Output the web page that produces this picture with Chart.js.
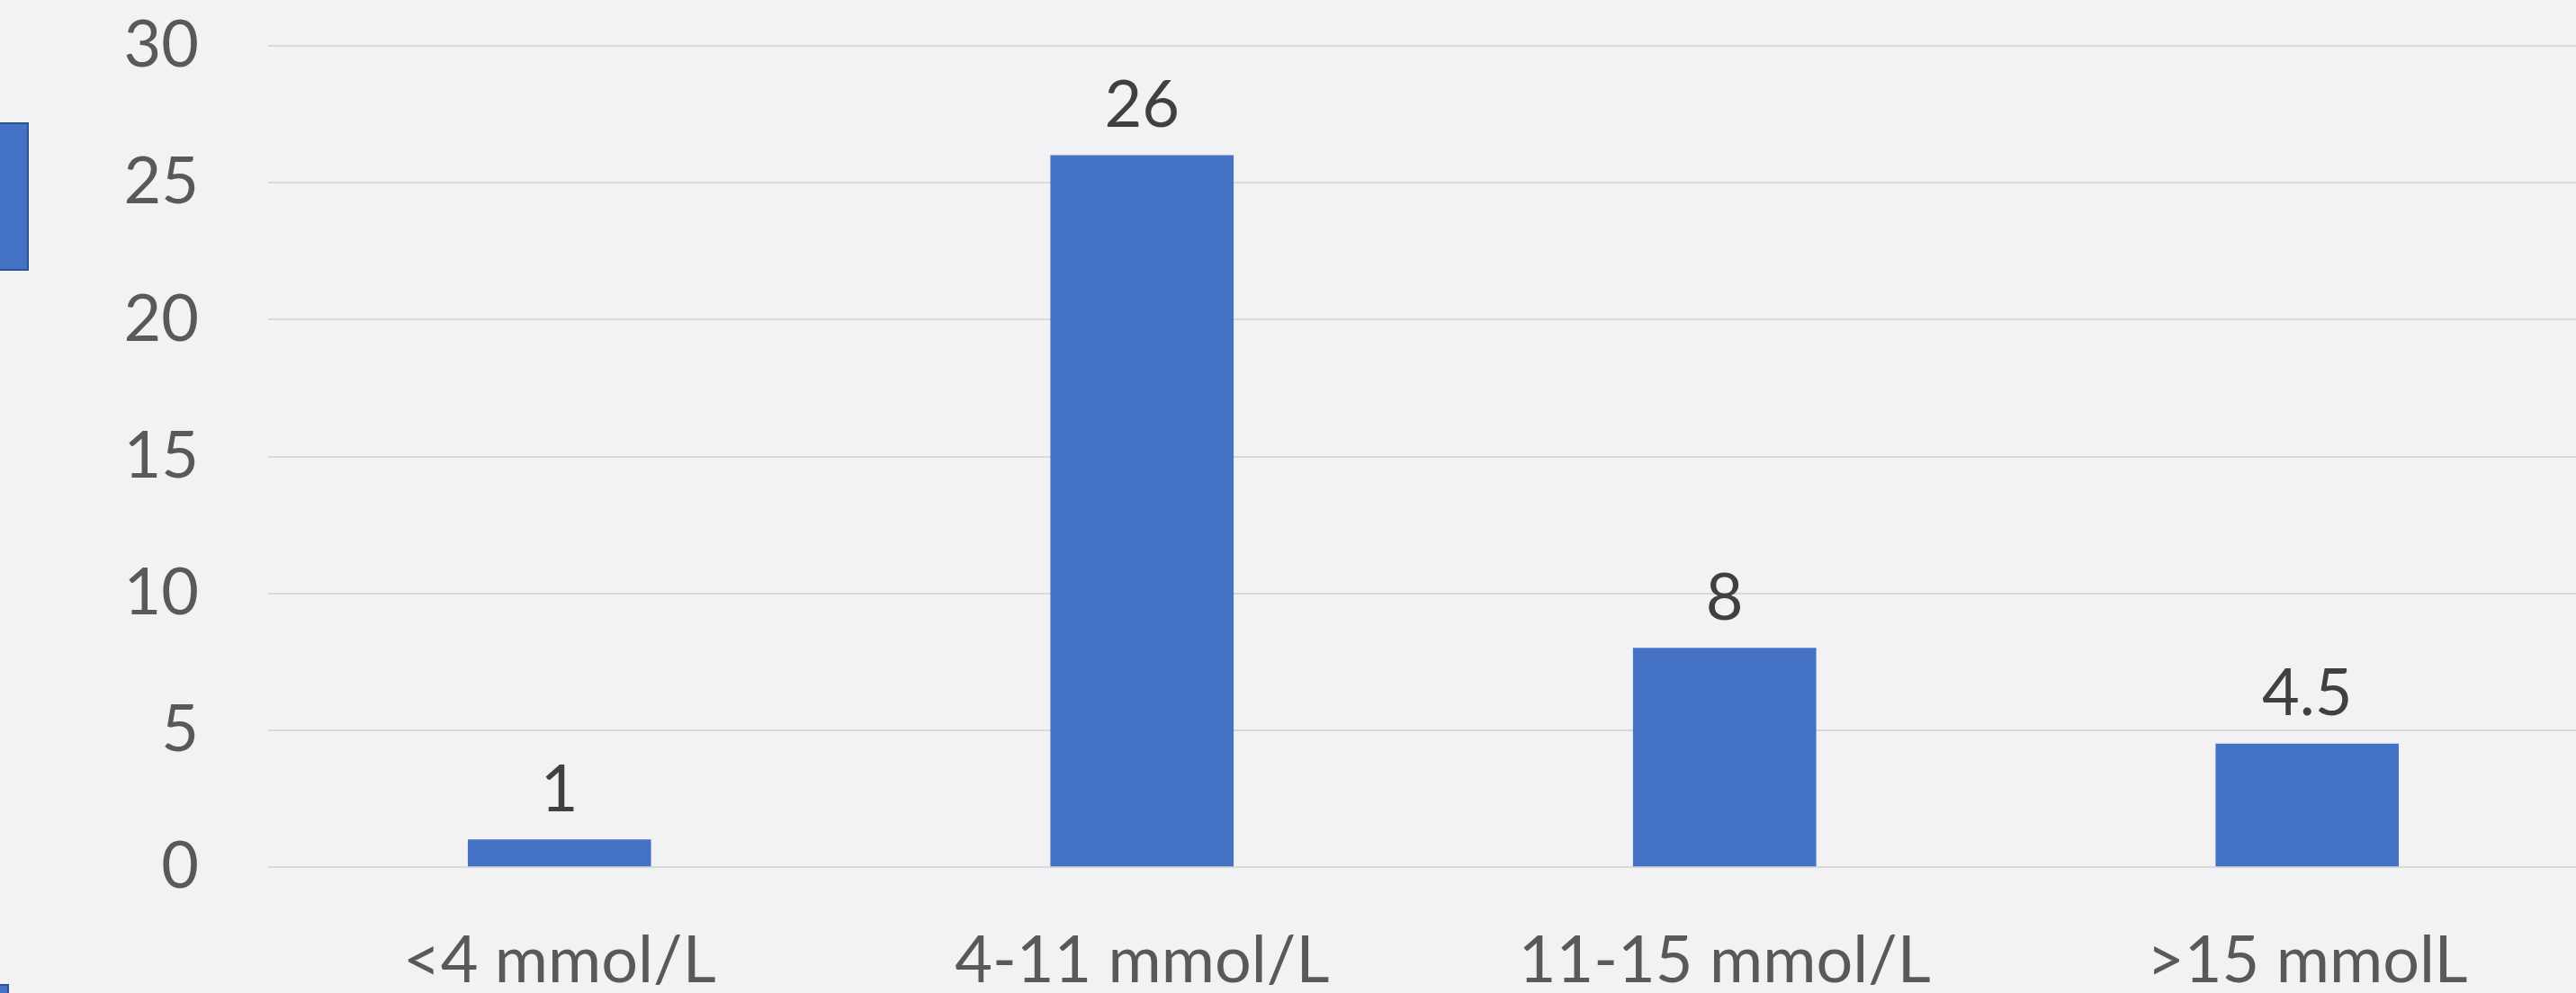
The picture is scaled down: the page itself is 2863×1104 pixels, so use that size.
<!DOCTYPE html>
<html>
<head>
<meta charset="utf-8">
<script src="https://cdn.jsdelivr.net/npm/chart.js@4/dist/chart.umd.min.js"></script>
<style>
  html, body { margin: 0; padding: 0; background: #f2f2f4; overflow: hidden; }
  #wrap { position: absolute; left: 0; top: 0; width: 2888px; height: 1104px; }
  .tab { position: absolute; background: #4472c4; box-sizing: border-box; border: 2px solid #2f528f; }
</style>
</head>
<body>
<div id="wrap"><canvas id="c" width="2888" height="1104"></canvas></div>
<div class="tab" style="left:-4px; top:136px; width:36px; height:165px;"></div>
<div class="tab" style="left:-4px; top:1094px; width:14px; height:20px;"></div>
<script>
// Glucose ranges and counts
const categories = ['<4 mmol/L', '4-11 mmol/L', '11-15 mmol/L', '>15 mmolL'];
const counts = [1, 26, 8, 4.5];
const yTicks = [0, 5, 10, 15, 20, 25, 30];

const FONT = 'Lato, "Open Sans", sans-serif';

// Writes each bar's value above it
const valueLabels = {
  id: 'valueLabels',
  afterDatasetsDraw(chart) {
    const ctx = chart.ctx;
    const meta = chart.getDatasetMeta(0);
    ctx.save();
    ctx.font = '72px ' + FONT;
    ctx.fillStyle = '#404040';
    ctx.textAlign = 'center';
    ctx.textBaseline = 'alphabetic';
    meta.data.forEach((bar, i) => {
      ctx.fillText(String(counts[i]), bar.x, bar.y - 32);
    });
    ctx.restore();
  }
};

new Chart(document.getElementById('c'), {
  type: 'bar',
  data: {
    labels: categories,
    datasets: [{
      data: counts,
      backgroundColor: '#4472c4',
      borderWidth: 0,
      barThickness: 203
    }]
  },
  options: {
    responsive: false,
    animation: false,
    devicePixelRatio: 1,
    layout: { padding: { top: 51, right: 0, bottom: 0, left: 0 } },
    plugins: { legend: { display: false }, tooltip: { enabled: false } },
    scales: {
      x: {
        grid: { display: false, drawTicks: false },
        border: { display: false },
        ticks: {
          color: '#595959',
          font: { family: FONT, size: 72 },
          padding: 62,
          maxRotation: 0,
          autoSkip: false
        },
        afterFit(scale) {
          scale.height = 140;
          scale.paddingLeft = 0;
          scale.paddingRight = 0;
        }
      },
      y: {
        min: 0,
        max: 30,
        afterBuildTicks(scale) { scale.ticks = yTicks.map(v => ({ value: v })); },
        grid: { color: '#d9d9d9', lineWidth: 2, drawTicks: false },
        border: { display: false },
        ticks: {
          color: '#595959',
          font: { family: FONT, size: 72 },
          padding: 77
        },
        afterFit(scale) {
          scale.width = 298;
          scale.paddingTop = 0;
          scale.paddingBottom = 0;
        }
      }
    }
  },
  plugins: [valueLabels]
});
</script>
</body>
</html>
